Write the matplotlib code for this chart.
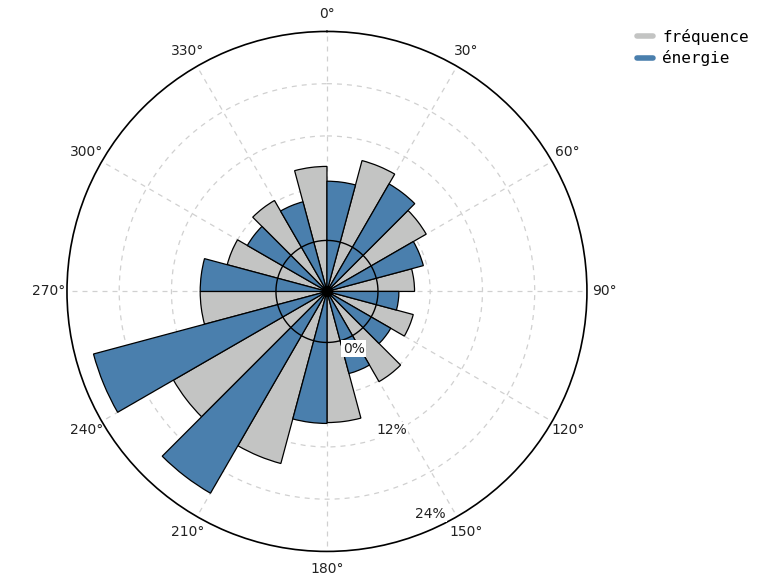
# Rose des vents : fréquence et énergie par secteur de 30°

import matplotlib.pyplot as plt
from matplotlib.lines import Line2D
import numpy as np

directions = [0, 30, 60, 90, 120, 150, 180, 210, 240, 270, 300, 330]
frequence = [8.5, 9.7, 7.3, 4.2, 4.4, 6.1, 9.2, 14.6, 14.5, 8.7, 6.0, 6.2]
energie = [6.8, 8.4, 5.6, 2.4, 2.6, 3.9, 9.3, 20.9, 21.9, 8.7, 4.7, 4.8]
pct_labels = [0, 12, 24]
noms = ['fréquence', 'énergie']

gris = '#c3c4c3'
bleu = '#4a7fad'

off = 5.86        # le 0 % est décalé du centre
rmax = 24
lab_r = [1.4, 11.7, 22.3]   # où poser les étiquettes de %

fig = plt.figure(figsize=(7.61, 5.75), dpi=100)
ax = fig.add_axes([0.088, 0.041, 0.6833, 0.9043], projection='polar')
ax.set_theta_zero_location('N')
ax.set_theta_direction(-1)
ax.set_ylim(-off, rmax)

theta = np.radians(directions)
w = np.radians(15)
ax.bar(theta - w / 2, np.array(frequence) + off, width=w, bottom=-off,
       color=gris, edgecolor='black', linewidth=0.9, zorder=3)
ax.bar(theta + w / 2, np.array(energie) + off, width=w, bottom=-off,
       color=bleu, edgecolor='black', linewidth=0.9, zorder=3)

# cercle du 0 %
t = np.linspace(0, 2 * np.pi, 400)
ax.plot(t, np.zeros_like(t), color='black', lw=1.0, zorder=4)
ax.plot(0, -off, 'o', color='black', ms=7, zorder=5)

angles = np.arange(0, 360, 30)
ax.set_xticks(np.radians(angles))
ax.set_xticklabels([])
ax.set_yticks([6, 12, 18])
ax.set_yticklabels([])
ax.set_axisbelow(True)
ax.grid(color='#d0d0d0', linestyle=(0, (4, 4)), lw=0.9)
ax.spines['polar'].set_color('black')
ax.spines['polar'].set_linewidth(1.2)

# étiquettes des angles, posées à la main juste hors du cercle
r_lab = -off + 1.069 * (rmax + off)
for d in angles:
    ax.text(np.radians(d), r_lab, f'{d}°', ha='center', va='center',
            fontsize=10, color='#222222', clip_on=False)

for p, r in zip(pct_labels, lab_r):
    ax.text(np.radians(155), r, f'{p}%', ha='center', va='center', fontsize=10,
            color='#222222', zorder=6,
            bbox=dict(facecolor='white', edgecolor='none', pad=1))

handles = [Line2D([], [], color=gris, lw=4, solid_capstyle='round'),
           Line2D([], [], color=bleu, lw=4, solid_capstyle='round')]
fig.legend(handles, noms, loc='upper left', bbox_to_anchor=(0.818, 0.975),
           frameon=False, prop={'family': 'DejaVu Sans Mono', 'size': 11.5},
           handlelength=1.0, handletextpad=0.6, labelspacing=0.35)

fig.savefig('out.png', dpi=100)
